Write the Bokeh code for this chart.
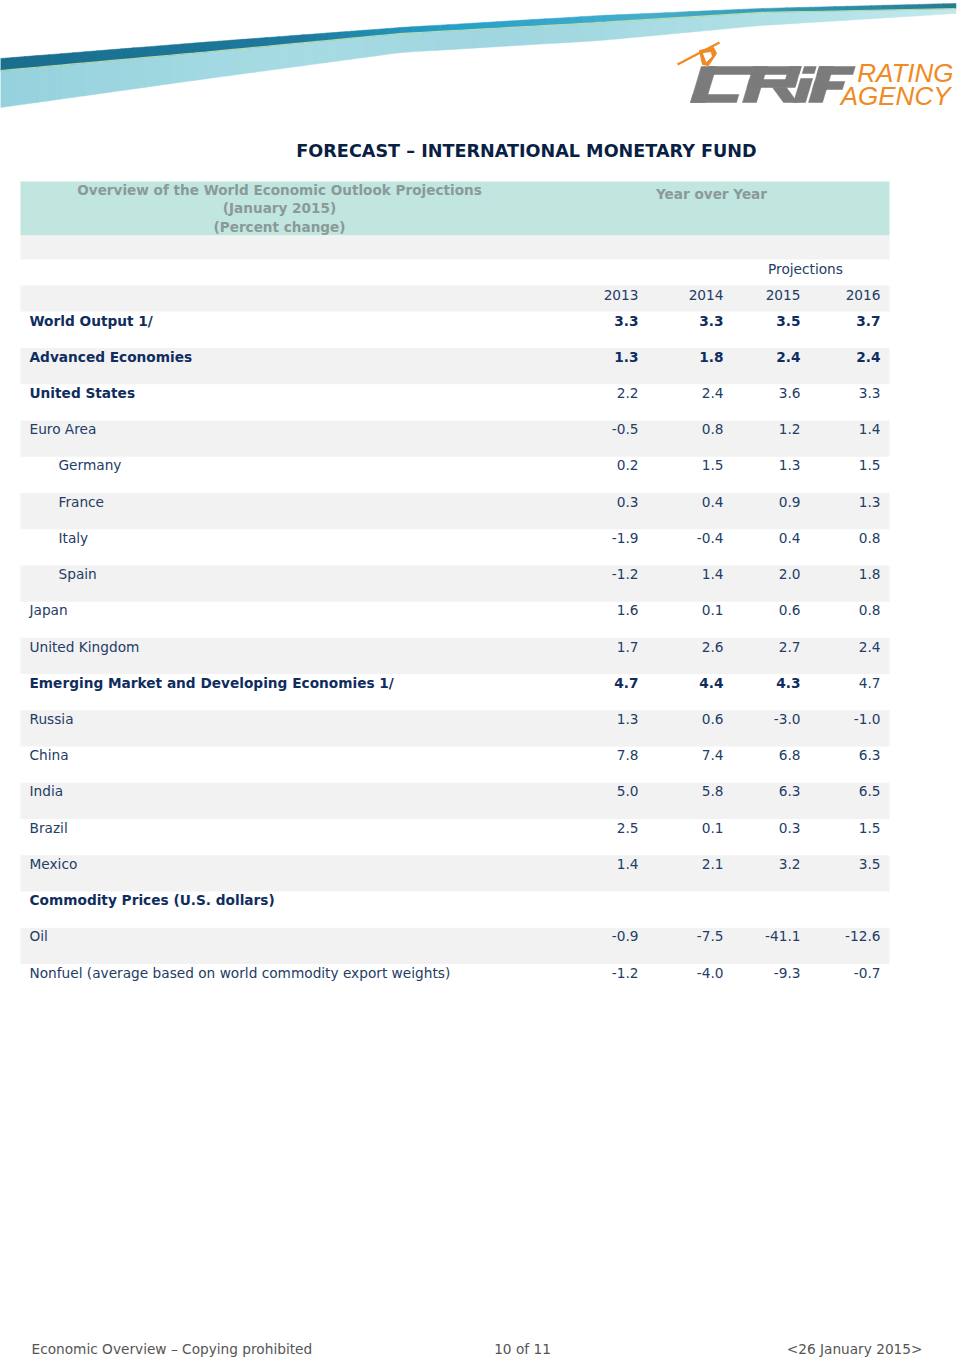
from bokeh.plotting import figure
from bokeh.models import Range1d, ColumnDataSource
from bokeh.core.properties import value
from bokeh.embed import file_html
from bokeh.resources import INLINE
import numpy as np

# ---------------- data ----------------
title = "FORECAST \u2013 INTERNATIONAL MONETARY FUND"
header_left = ["Overview of the World Economic Outlook Projections", "(January 2015)", "(Percent change)"]
header_right = "Year over Year"
proj_label = "Projections"
years = ["2013", "2014", "2015", "2016"]

countries = [
    "World Output 1/", "Advanced Economies", "United States", "Euro Area",
    "Germany", "France", "Italy", "Spain", "Japan", "United Kingdom",
    "Emerging Market and Developing Economies 1/", "Russia", "China", "India",
    "Brazil", "Mexico", "Commodity Prices (U.S. dollars)", "Oil",
    "Nonfuel (average based on world commodity export weights)",
]
v2013 = [3.3, 1.3, 2.2, -0.5, 0.2, 0.3, -1.9, -1.2, 1.6, 1.7, 4.7, 1.3, 7.8, 5.0, 2.5, 1.4, None, -0.9, -1.2]
v2014 = [3.3, 1.8, 2.4, 0.8, 1.5, 0.4, -0.4, 1.4, 0.1, 2.6, 4.4, 0.6, 7.4, 5.8, 0.1, 2.1, None, -7.5, -4.0]
v2015 = [3.5, 2.4, 3.6, 1.2, 1.3, 0.9, 0.4, 2.0, 0.6, 2.7, 4.3, -3.0, 6.8, 6.3, 0.3, 3.2, None, -41.1, -9.3]
v2016 = [3.7, 2.4, 3.3, 1.4, 1.5, 1.3, 0.8, 1.8, 0.8, 2.4, 4.7, -1.0, 6.3, 6.5, 1.5, 3.5, None, -12.6, -0.7]

bold_label_rows = [0, 1, 2, 10, 16]
bold_value_cells = {0: [0, 1, 2, 3], 1: [0, 1, 2, 3], 10: [0, 1, 2]}
indented_rows = [4, 5, 6, 7]

footer_left = "Economic Overview \u2013 Copying prohibited"
footer_mid = "10 of 11"
footer_right = "<26 January 2015>"
logo_words = ["RATING", "AGENCY"]

# ---------------- layout / style ----------------
W, H = 960, 1357
FONT = value("DejaVu Sans")
FS = "13.7px"
NAVY_B = "#0f2d5e"
NAVY = "#243c66"
GRAY_HDR = "#8b9998"
TEAL = "#c0e6df"
BAND = "#f2f2f2"
ORANGE = "#f08a24"
LOGO_GRAY = "#7b7b7b"

ROW0_Y = 320.0
ROW_STEP = 36.23
TABLE_L, TABLE_R = 20, 889
LABEL_X, INDENT = 29, 29
COL_RIGHT = [638, 723, 800, 880]

p = figure(width=W, height=H, x_range=Range1d(0, W), y_range=Range1d(H, 0),
           output_backend="svg", toolbar_location=None, x_axis_type=None, y_axis_type=None,
           min_border=0, background_fill_color="white", border_fill_color="white")
p.outline_line_color = None
row_top = -ROW0_Y / ROW_STEP
p.extra_y_ranges = {"rows": Range1d(start=row_top + H / ROW_STEP, end=row_top)}

# ---------------- swoosh (decoration) ----------------
sx = [0, 200, 400, 600, 760, 955]
top_edge = [58, 42, 27, 15, 8, 3]
mid_edge = [70, 52, 33, 22, 12, 8]
bot_edge = [107, 79, 52, 40, 25, 13]
dark_stops_x = [0, 300, 450, 650, 800, 955]
dark_stops_c = [(26, 110, 142), (30, 122, 158), (38, 160, 200), (70, 175, 205), (48, 150, 175), (40, 125, 145)]
light_stops_x = [0, 300, 500, 800, 955]
light_stops_c = [(150, 210, 222), (168, 220, 228), (160, 214, 224), (178, 226, 231), (195, 233, 236)]


def col_at(x, xs, cs):
    r = np.interp(x, xs, [c[0] for c in cs])
    g = np.interp(x, xs, [c[1] for c in cs])
    b = np.interp(x, xs, [c[2] for c in cs])
    return "#%02x%02x%02x" % (int(r), int(g), int(b))


segx = np.linspace(0, 955, 80)
dxs, dys, dcs, lxs, lys, lcs = [], [], [], [], [], []
for a, b in zip(segx[:-1], segx[1:]):
    ta, tb = np.interp([a, b], sx, top_edge)
    ma, mb = np.interp([a, b], sx, mid_edge)
    ba, bb = np.interp([a, b], sx, bot_edge)
    dxs.append([a, b + 0.5, b + 0.5, a]); dys.append([ta, tb, mb, ma])
    dcs.append(col_at((a + b) / 2, dark_stops_x, dark_stops_c))
    lxs.append([a, b + 0.5, b + 0.5, a]); lys.append([ma, mb, bb, ba])
    lcs.append(col_at((a + b) / 2, light_stops_x, light_stops_c))
p.patches(xs=lxs, ys=lys, fill_color=lcs, line_color=lcs, line_width=0.5)
p.patches(xs=dxs, ys=dys, fill_color=dcs, line_color=dcs, line_width=0.5)
p.line(x=list(segx), y=list(np.interp(segx, sx, mid_edge)), line_color="#cfe8a8", line_width=1.2, line_alpha=0.8)

# ---------------- logo (decoration) ----------------
p.line(x=[677, 719], y=[64, 42], line_color=ORANGE, line_width=2.5)
p.patch(x=[699, 713, 716, 708, 702], y=[50, 47, 53, 65, 64], fill_color=ORANGE, line_color=ORANGE)
p.patch(x=[703, 710, 711, 706], y=[53, 52, 56, 61], fill_color="white", line_color="white")

# blocky slanted letters C R i F as rectangles (x0, x1, y0, y1), then sheared
logo_rects = [
    (698, 742, 66, 74), (690, 705, 66, 102), (690, 736, 94, 102),                     # C
    (742, 756, 66, 102), (742, 790, 66, 74), (778, 790, 66, 86), (742, 790, 79, 87),  # R
    (793, 805, 78, 102), (793, 805, 66, 73),                                          # i
    (808, 822, 66, 102), (808, 844, 66, 74), (808, 838, 81, 89),                      # F
]
SLANT = 0.3
rxs, rys = [], []
for x0, x1, y0, y1 in logo_rects:
    rxs.append([x0 + (102 - y0) * SLANT, x1 + (102 - y0) * SLANT, x1 + (102 - y1) * SLANT, x0 + (102 - y1) * SLANT])
    rys.append([y0, y0, y1, y1])
# R leg
rxs.append([772, 786, 797, 783]); rys.append([87, 87, 102, 102])
p.patches(xs=rxs, ys=rys, fill_color=LOGO_GRAY, line_color=LOGO_GRAY, line_width=0.5)
p.text(x=[953, 950], y=[72, 95], text=logo_words, text_font=value("Liberation Sans"),
       text_font_size="26px", text_font_style="italic", text_color=ORANGE,
       text_align="right", text_baseline="middle")

# ---------------- title ----------------
p.text(x=[526], y=[150], text=[title], text_font=FONT, text_font_size="17.6px", text_font_style="bold",
       text_color="#0a1f44", text_align="center", text_baseline="middle")

# ---------------- header blocks ----------------
p.quad(left=[TABLE_L], right=[TABLE_R], top=[181], bottom=[235], fill_color=TEAL, line_color=None)
p.quad(left=[TABLE_L], right=[TABLE_R], top=[235], bottom=[259], fill_color=BAND, line_color=None)
p.quad(left=[TABLE_L], right=[TABLE_R], top=[285], bottom=[311], fill_color=BAND, line_color=None)
p.text(x=[279] * 3, y=[189, 207, 226], text=header_left, text_font=FONT, text_font_size="13.6px",
       text_font_style="bold", text_color=GRAY_HDR, text_align="center", text_baseline="middle")
p.text(x=[711], y=[193], text=[header_right], text_font=FONT, text_font_size="13.6px",
       text_font_style="bold", text_color=GRAY_HDR, text_align="center", text_baseline="middle")
p.text(x=[805], y=[268], text=[proj_label], text_font=FONT, text_font_size=FS,
       text_color=NAVY, text_align="center", text_baseline="middle")
p.text(x=COL_RIGHT, y=[294] * 4, text=years, text_font=FONT, text_font_size=FS,
       text_color=NAVY, text_align="right", text_baseline="middle")

# ---------------- table rows ----------------
n = len(countries)
band_rows = [i for i in range(n) if i % 2 == 1]
p.quad(left=[TABLE_L] * len(band_rows), right=[TABLE_R] * len(band_rows),
       top=[i - 0.24 for i in band_rows], bottom=[i + 0.76 for i in band_rows],
       fill_color=BAND, line_color=None, y_range_name="rows")

lab = dict(x=[], y=[], text=[], style=[], color=[])
for i, name in enumerate(countries):
    lab["x"].append(LABEL_X + (INDENT if i in indented_rows else 0))
    lab["y"].append(i)
    lab["text"].append(name)
    b = i in bold_label_rows
    lab["style"].append("bold" if b else "normal")
    lab["color"].append(NAVY_B if b else NAVY)
p.text(x="x", y="y", text="text", source=ColumnDataSource(lab), text_font=FONT, text_font_size=FS,
       text_font_style="style", text_color="color", text_align="left", text_baseline="middle",
       y_range_name="rows")

vals = dict(x=[], y=[], text=[], style=[], color=[])
for j, series in enumerate([v2013, v2014, v2015, v2016]):
    for i, v in enumerate(series):
        if v is None:
            continue
        b = j in bold_value_cells.get(i, [])
        vals["x"].append(COL_RIGHT[j])
        vals["y"].append(i)
        vals["text"].append(f"{v:.1f}")
        vals["style"].append("bold" if b else "normal")
        vals["color"].append(NAVY_B if b else NAVY)
p.text(x="x", y="y", text="text", source=ColumnDataSource(vals), text_font=FONT, text_font_size=FS,
       text_font_style="style", text_color="color", text_align="right", text_baseline="middle",
       y_range_name="rows")

# ---------------- footer ----------------
p.text(x=[31], y=[1348], text=[footer_left], text_font=FONT, text_font_size=FS,
       text_color="#555555", text_align="left", text_baseline="middle")
p.text(x=[522], y=[1348], text=[footer_mid], text_font=FONT, text_font_size=FS,
       text_color="#555555", text_align="center", text_baseline="middle")
p.text(x=[922], y=[1348], text=[footer_right], text_font=FONT, text_font_size=FS,
       text_color="#555555", text_align="right", text_baseline="middle")

open("out.html", "w").write(file_html(p, INLINE))
